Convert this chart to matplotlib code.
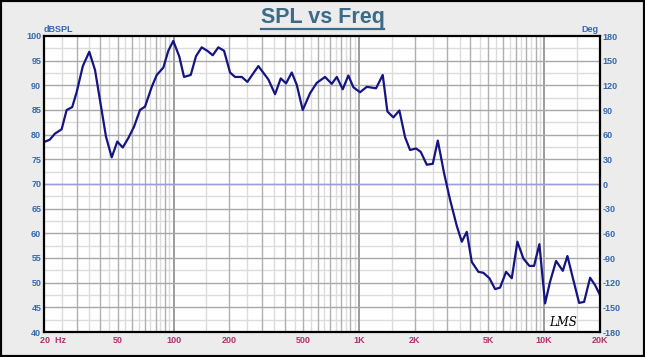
import numpy as np
import matplotlib
matplotlib.use("Agg")
import matplotlib.pyplot as plt
from matplotlib.patches import Rectangle
from matplotlib.lines import Line2D

# SPL response (Hz, dB)
freq = [20, 21.5, 22.9, 24.9, 26.5, 28.4, 30.0, 32.4, 35.1, 37.7,
        40.5, 43.2, 46.4, 49.7, 53.2, 57.0, 61.2, 65.9, 70.2, 76.3,
        81.2, 88.1, 93.7, 99.7, 107.5, 113.9, 123.8, 132.2, 141.9, 152.2,
        162.7, 174.5, 187.3, 201.8, 214.7, 233.4, 250.2, 286.8, 324.7, 353.0,
        378.8, 404.6, 434.4, 462.2, 497.8, 545.2, 592.6, 656.9, 714.0, 759.9,
        818.4, 877.5, 934.1, 1015, 1103, 1238, 1345, 1425, 1535, 1654,
        1775, 1888, 2035, 2158, 2325, 2505, 2666, 2882, 3105, 3375,
        3592, 3821, 4066, 4415, 4697, 5062, 5432, 5779, 6227, 6684,
        7167, 7720, 8318, 8817, 9419, 10108, 10756, 11592, 12597, 13343,
        14372, 15429, 16415, 17685, 18813, 20000]
spl = [78.5, 79, 80.2, 81.1, 85, 85.6, 88.6, 93.9, 96.8, 93.1,
       86, 79.6, 75.4, 78.6, 77.4, 79.3, 81.6, 85, 85.7, 89.7,
       92.1, 93.6, 97, 99, 95.8, 91.7, 92.1, 95.9, 97.7, 97,
       96.1, 97.7, 97, 92.6, 91.7, 91.7, 90.7, 93.9, 91.2, 88.2,
       91.4, 90.4, 92.6, 90.1, 85, 88.4, 90.5, 91.7, 90.3, 91.7,
       89.2, 92, 89.6, 88.6, 89.7, 89.4, 92.1, 84.7, 83.5, 84.9,
       79.5, 76.9, 77.2, 76.5, 73.9, 74.1, 78.8, 72.2, 66.8, 61.5,
       58.3, 60.3, 54.2, 52.2, 52, 50.9, 48.7, 49, 52.2, 50.9,
       58.3, 54.9, 53.4, 53.4, 57.8, 45.8, 50.2, 54.4, 52.4, 55.4,
       50.5, 45.9, 46.1, 51, 49.5, 47.5]

x_labels = [20, 50, 100, 200, 500, 1000, 2000, 5000, 10000, 20000]
x_label_text = ["20  Hz", "50", "100", "200", "500", "1K", "2K", "5K", "10K", "20K"]
db_ticks = list(range(40, 101, 5))
deg_ticks = list(range(-180, 181, 30))

BLUE = "#3468ad"
RED = "#b3306b"

plt.rcParams["font.family"] = ["Liberation Sans", "DejaVu Sans"]

fig = plt.figure(figsize=(6.45, 3.57), dpi=100, facecolor="#ececec")
ax = fig.add_axes([44 / 645, 25 / 357, 556 / 645, 296 / 357])
ax.set_facecolor("white")
ax.set_xscale("log")
ax.set_xlim(20, 20000)
ax.set_ylim(40, 100)

# grid: darker at 1..9 x decade, lighter at the half steps
for dec in [10, 100, 1000, 10000]:
    for m in range(1, 10):
        f = m * dec
        if 20 < f < 20000:
            ax.axvline(f, color="#9c9c9c" if m == 1 else "#b0b0b0",
                       lw=1.4 if m == 1 else 1.0, zorder=1)
        fh = (m + 0.5) * dec
        if 20 < fh < 20000:
            ax.axvline(fh, color="#dcdcdc", lw=1.0, zorder=0.9)
for y in np.arange(45, 100, 5):
    ax.axhline(y, color="#a8a8a8", lw=1.0, zorder=1)
for y in np.arange(42.5, 100, 5):
    ax.axhline(y, color="#dcdcdc", lw=1.0, zorder=0.9)
ax.axhline(70, color="#9c9ce0", lw=1.0, zorder=2)

ax.plot(freq, spl, color="#141482", lw=1.6, zorder=3)

ax.set_yticks(db_ticks)
ax.set_yticklabels([str(t) for t in db_ticks])
ax.tick_params(axis="y", length=0, pad=2, labelsize=6.5, labelcolor=BLUE)
for lab in ax.get_yticklabels():
    lab.set_fontweight("bold")
ax.set_xticks([])
ax.xaxis.set_minor_locator(matplotlib.ticker.NullLocator())

for f, t in zip(x_labels, x_label_text):
    ha = "left" if f == 20 else "center"
    xx = 19.0 if f == 20 else f
    ax.text(xx, -0.028, t, transform=ax.get_xaxis_transform(), ha=ha, va="center",
            fontsize=6.5, fontweight="bold", color=RED)

for s in ax.spines.values():
    s.set_color("black")
    s.set_linewidth(1.6)
    s.set_zorder(4)

ax2 = ax.twinx()
ax2.set_ylim(-180, 180)
ax2.set_yticks(deg_ticks)
ax2.set_yticklabels([str(t) for t in deg_ticks])
ax2.tick_params(axis="y", length=0, pad=2, labelsize=6.5, labelcolor=BLUE)
for lab in ax2.get_yticklabels():
    lab.set_fontweight("bold")
for s in ax2.spines.values():
    s.set_visible(False)

fig.text(44 / 645, 1 - 29 / 357, "dBSPL", fontsize=6.5, fontweight="bold",
         color=BLUE, ha="left", va="center")
fig.text(598 / 645, 1 - 29 / 357, "Deg", fontsize=6.5, fontweight="bold",
         color=BLUE, ha="right", va="center")

title = fig.text(0.5, 1 - 17 / 357, "SPL vs Freq", fontsize=15.5, fontweight="bold",
                 color="#3b6b86", ha="center", va="center")
fig.canvas.draw()
bb = title.get_window_extent().transformed(fig.transFigure.inverted())
fig.add_artist(Line2D([bb.x0, bb.x1], [bb.y0 - 0.004, bb.y0 - 0.004],
                      transform=fig.transFigure, color="#3b6b86", lw=1.6))

fig.text(563 / 645, 1 - 322 / 357, "LMS", fontsize=8.5, fontstyle="italic",
         family="DejaVu Serif", color="black", ha="center", va="center")

fig.add_artist(Rectangle((0, 0), 1, 1, transform=fig.transFigure, fill=False,
                         edgecolor="black", lw=3))

fig.savefig("out.png", dpi=100, facecolor=fig.get_facecolor())
